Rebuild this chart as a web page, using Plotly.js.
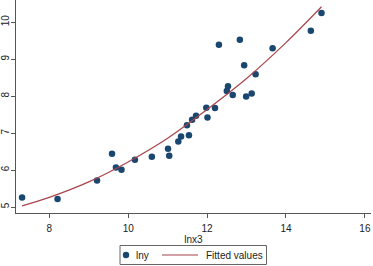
<!DOCTYPE html>
<html><head><meta charset="utf-8">
<script src="https://cdn.plot.ly/plotly-3.0.1.min.js"></script>
<style>html,body{margin:0;padding:0;background:#fff;overflow:hidden}</style>
</head><body><div id="chart" style="width:373px;height:266px"></div>
<script>
// scatter data (lnx3, lny)
const lnx3 = [7.31, 8.21, 9.21, 9.59, 9.69, 9.83, 10.17, 10.60, 11.01, 11.04,
              11.27, 11.34, 11.49, 11.54, 11.62, 11.72, 11.98, 12.01, 12.20, 12.30,
              12.50, 12.53, 12.65, 12.83, 12.94, 12.99, 13.13, 13.23, 13.66, 14.63, 14.90];
const lny  = [5.26, 5.22, 5.72, 6.44, 6.07, 6.01, 6.28, 6.36, 6.58, 6.39,
              6.77, 6.91, 7.21, 6.94, 7.36, 7.47, 7.69, 7.42, 7.68, 9.39,
              8.14, 8.27, 8.03, 9.53, 8.84, 7.99, 8.07, 8.59, 9.30, 9.77, 10.25];
// fitted values
const fitX = [7.31, 8, 9, 10, 11, 12, 13, 14, 14.90];
const fitY = [5.03, 5.26, 5.68, 6.22, 6.86, 7.64, 8.48, 9.45, 10.42];
const seriesNames = ['lny', 'Fitted values'];
const xTitle = 'lnx3';
const xTicks = [8, 10, 12, 14, 16];
const yTicks = [5, 6, 7, 8, 9, 10];

const W = 373, H = 266, ML = 16, MR = 2, MT = 0, MB = 53;
const PW = W - ML - MR, PH = H - MT - MB;
const fx = px => (px - ML) / PW;          // pixel -> paper x
const fy = py => (H - MB - py) / PH;      // pixel -> paper y

const markerColor = '#1a476f', lineColor = '#a8454c';
const font = {family: 'Liberation Sans, Arial, sans-serif', size: 10, color: '#222'};
const traces = [
  {x: lnx3, y: lny, type: 'scatter', mode: 'markers', name: seriesNames[0],
   marker: {color: markerColor, size: 6.5}},
  {x: fitX, y: fitY, type: 'scatter', mode: 'lines', name: seriesNames[1],
   line: {color: lineColor, width: 1.2, shape: 'spline'}}
];
const legY = 255;
const layout = {
  width: W, height: H,
  margin: {l: ML, r: MR, t: MT, b: MB, autoexpand: false},
  paper_bgcolor: '#fff', plot_bgcolor: '#fff',
  font: font,
  showlegend: false,
  xaxis: {range: [7.156, 16.155], tickvals: xTicks, ticks: 'outside', ticklen: 4,
          tickcolor: '#555', showline: true, linecolor: '#555', linewidth: 1,
          showgrid: false, zeroline: false, tickfont: font, ticklabelstandoff: 2,
          automargin: true,
          title: {text: xTitle, font: font, standoff: 0}},
  yaxis: {range: [4.838, 10.603], tickvals: yTicks, ticks: 'outside', ticklen: 4,
          tickcolor: '#555', showline: true, linecolor: '#555', linewidth: 1,
          showgrid: false, zeroline: false, tickfont: font, tickangle: -90,
          ticklabelstandoff: -2},
  shapes: [
    {type: 'rect', xref: 'paper', yref: 'paper', x0: fx(120), x1: fx(266.5),
     y0: fy(264.5), y1: fy(245.5), line: {color: '#666', width: 1}, fillcolor: '#fff'},
    {type: 'circle', xref: 'paper', yref: 'paper', x0: fx(122.8), x1: fx(129.2),
     y0: fy(legY + 3.2), y1: fy(legY - 3.2), line: {width: 0}, fillcolor: markerColor},
    {type: 'line', xref: 'paper', yref: 'paper', x0: fx(162), x1: fx(198),
     y0: fy(legY), y1: fy(legY), line: {color: lineColor, width: 1.2}}
  ],
  annotations: [
    {xref: 'paper', yref: 'paper', x: fx(134), y: fy(legY), xanchor: 'left', yanchor: 'middle',
     text: seriesNames[0], showarrow: false, font: font},
    {xref: 'paper', yref: 'paper', x: fx(204), y: fy(legY), xanchor: 'left', yanchor: 'middle',
     text: seriesNames[1], showarrow: false, font: font}
  ]
};
Plotly.newPlot('chart', traces, layout, {staticPlot: true, displayModeBar: false});
</script>
</body></html>
